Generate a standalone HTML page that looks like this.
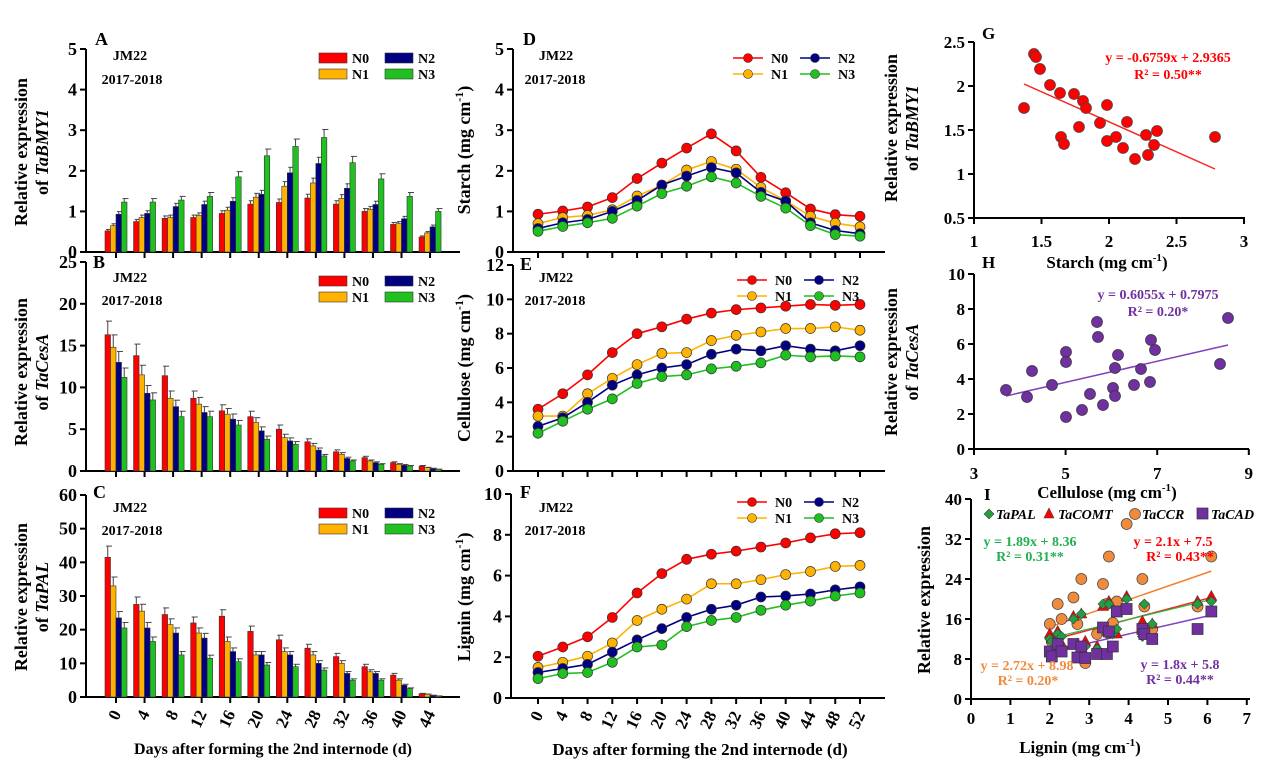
<!DOCTYPE html>
<html><head><meta charset="utf-8"><style>
html,body{margin:0;padding:0;background:#fff;}
svg{display:block;font-family:"Liberation Serif",serif;font-weight:bold;}
</style></head><body>
<svg id="s" width="1269" height="777" xmlns="http://www.w3.org/2000/svg"></svg>
<script>
const S=document.getElementById('s');let h='';
const C=['#ff0000','#ffb300','#000080','#1fc01f'];
const NAMES=['N0','N1','N2','N3'];
function t(x,y,s,fs,anch,extra){h+=`<text x="${x}" y="${y}" font-size="${fs}" text-anchor="${anch||'middle'}" ${extra||''}>${s}</text>`;}
function ln(x1,y1,x2,y2,c,w){h+=`<line x1="${x1}" y1="${y1}" x2="${x2}" y2="${y2}" stroke="${c||'#000'}" stroke-width="${w||2}"/>`;}
function yaxis(ax,top,bot,ymax,step,fs,fmt){ln(ax,top,ax,bot);for(let v=0;v<=ymax+1e-9;v+=step){let y=bot-(bot-top)*v/ymax;ln(ax-6,y,ax,y);t(ax-9,y+6,fmt?fmt(v):v,fs||18,'end');}}
function xticks(ax,right,bot,x0,dx,n,labels){ln(ax,bot,right,bot);for(let i=0;i<n;i++){let x=x0+dx*i;ln(x,bot,x,bot+6);if(labels){h+=`<text x="${x}" y="${bot+14}" font-size="17" text-anchor="end" transform="rotate(-65 ${x} ${bot+14})" dy="6">${labels[i]}</text>`;}}}
function bars(ax,right,top,bot,ymax,data,labels,err){
 const x0=116,dx=28.55;xticks(ax,right,bot,x0,dx,12,labels);
 data.forEach((g,i)=>{g.forEach((v,j)=>{let x=x0+dx*i-11+j*5.5;let y=bot-(bot-top)*v/ymax;
  h+=`<rect x="${x}" y="${y}" width="5.5" height="${bot-y}" fill="${C[j]}" stroke="#333" stroke-width="0.6"/>`;
  let e=y-(bot-top)*(v*err)/ymax;ln(x+2.75,y,x+2.75,e,'#444',1);ln(x+1,e,x+7,e,'#444',1);});});}
function legBar(x,y){NAMES.forEach((n,j)=>{let xx=x+(j>>1)*66,yy=y+(j&1)*16;h+=`<rect x="${xx}" y="${yy}" width="28" height="10" fill="${C[j]}" stroke="#333" stroke-width="0.6"/>`;t(xx+33,yy+10,n,14,'start');});}
function legLine(x,y){NAMES.forEach((n,j)=>{let xx=x+(j>>1)*67,yy=y+(j&1)*16;ln(xx,yy,xx+30,yy,C[j],1.5);h+=`<circle cx="${xx+15}" cy="${yy}" r="4.5" fill="${C[j]}" stroke="#333" stroke-width="0.6"/>`;t(xx+38,yy+5,n,14,'start');});}
function lines(top,bot,ymax,data,err){const x0=538,dx=24.77;
 data.forEach((s,j)=>{let p=s.map((v,i)=>[x0+dx*i,bot-(bot-top)*v/ymax]);
  h+=`<polyline points="${p.map(q=>q.join(',')).join(' ')}" fill="none" stroke="${C[j]}" stroke-width="1.6"/>`;
  p.forEach(q=>{if(err){ln(q[0],q[1]-5,q[0],q[1]+5,'#777',1);}h+=`<circle cx="${q[0]}" cy="${q[1]}" r="5" fill="${C[j]}" stroke="#333" stroke-width="0.7"/>`;});});}
function ylab(x,y,lines_,fs){lines_.forEach((l,i)=>{h+=`<text x="${x+i*21}" y="${y}" font-size="${fs||18}" text-anchor="middle" transform="rotate(-90 ${x+i*21} ${y})">${l}</text>`;});}
const days12=[0,4,8,12,16,20,24,28,32,36,40,44];
const days14=[0,4,8,12,16,20,24,28,32,36,40,44,48,52];
// Panel A
yaxis(86,49,252,5,1);
bars(86,460,49,252,5,[[.52,.65,.93,1.23],[.75,.85,.95,1.23],[.83,.85,1.12,1.28],[.85,.9,1.17,1.37],[.95,1.03,1.25,1.85],[1.18,1.35,1.42,2.37],[1.22,1.62,1.95,2.6],[1.33,1.7,2.18,2.82],[1.18,1.32,1.57,2.2],[1.0,1.05,1.17,1.8],[.68,.7,.82,1.37],[.37,.47,.62,1.0]],null,0.07);
t(95,45,'A',18,'start');t(130,60,'JM22',14);t(132,84,'2017-2018',14);legBar(319,53);
ylab(27,152,['Relative expression','of <tspan font-style="italic">TaBMY1</tspan>']);
// Panel B
yaxis(86,262,471,25,5);
bars(86,460,262,471,25,[[16.3,14.8,13,11.2],[13.8,11.5,9.3,8.5],[11.4,8.7,7.7,6.5],[8.7,8,7,6.5],[7.2,6.8,6.2,5.5],[6.5,5.8,4.8,3.8],[5,4,3.6,3.2],[3.5,3,2.5,1.8],[2.3,2,1.5,1.2],[1.6,1.2,1,0.8],[1,0.8,0.7,0.6],[0.6,0.4,0.3,0.2]],null,0.1);
t(93,268,'B',18,'start');t(130,282,'JM22',14);t(132,305,'2017-2018',14);legBar(319,276);
ylab(27,372,['Relative expression','of <tspan font-style="italic">TaCesA</tspan>']);
// Panel C
yaxis(86,495,697,60,10);
bars(86,460,495,697,60,[[41.5,33,23.5,20.5],[27.5,25.5,20.5,16.5],[24.5,21.5,19,12.5],[22,19,17.5,11.5],[24,16.5,13.5,10.5],[19.5,12.5,12.5,9.5],[17,13.5,12.5,9],[14.5,12.5,10,8],[12,10,7,5],[9,7.5,7,5],[6.5,5,3.5,2.5],[1,0.8,0.5,0.3]],days12,0.08);
t(93,498,'C',18,'start');t(130,512,'JM22',14);t(132,535,'2017-2018',14);legBar(319,508);
ylab(27,597,['Relative expression','of <tspan font-style="italic">TaPAL</tspan>']);
t(273,754,'Days after forming the 2nd internode (d)',16);
// Panel D
yaxis(513,49,252,5,1);xticks(513,885,252,538,24.77,14,null);
lines(49,252,5,[[.93,1.01,1.11,1.34,1.81,2.19,2.56,2.91,2.49,1.84,1.46,1.06,.92,.88],[.7,.85,.9,1.04,1.38,1.64,2.02,2.23,2.04,1.59,1.26,.88,.71,.62],[.58,.72,.8,1.0,1.27,1.65,1.87,2.08,1.95,1.47,1.25,.72,.53,.45],[.51,.63,.72,.83,1.13,1.44,1.62,1.85,1.7,1.37,1.08,.65,.43,.39]],false);
t(523,45,'D',18,'start');t(556,60,'JM22',14);t(555,84,'2017-2018',14);legLine(733,58);
h+=`<text x="470" y="150" font-size="18" text-anchor="middle" transform="rotate(-90 470 150)">Starch (mg cm<tspan dy="-7" font-size="12">-1</tspan><tspan dy="7">)</tspan></text>`;
// Panel E
yaxis(513,265,471,12,2);xticks(513,885,471,538,24.77,14,null);
lines(265,471,12,[[3.6,4.5,5.6,6.9,8.0,8.4,8.85,9.2,9.4,9.5,9.6,9.7,9.65,9.7],[3.2,3.2,4.5,5.4,6.2,6.85,6.9,7.6,7.9,8.1,8.3,8.3,8.4,8.2],[2.6,3.1,4.0,5.0,5.6,6.0,6.2,6.8,7.1,7.0,7.3,7.1,7.0,7.3],[2.2,2.9,3.6,4.2,5.1,5.5,5.6,5.95,6.1,6.3,6.75,6.65,6.7,6.65]],true);
t(520,270,'E',18,'start');t(556,282,'JM22',14);t(555,305,'2017-2018',14);legLine(737,280);
h+=`<text x="470" y="368" font-size="18" text-anchor="middle" transform="rotate(-90 470 368)">Cellulose (mg cm<tspan dy="-7" font-size="12">-1</tspan><tspan dy="7">)</tspan></text>`;
// Panel F
yaxis(511,494,698,10,2);xticks(511,885,698,538,24.77,14,days14);
lines(494,698,10,[[2.05,2.5,3.0,3.95,5.15,6.1,6.8,7.05,7.2,7.4,7.6,7.85,8.05,8.1],[1.5,1.75,2.05,2.7,3.8,4.35,4.85,5.6,5.6,5.8,6.05,6.2,6.45,6.5],[1.25,1.45,1.65,2.25,2.85,3.4,3.95,4.35,4.55,4.95,5.0,5.1,5.3,5.45],[0.95,1.2,1.25,1.75,2.5,2.6,3.5,3.8,3.95,4.3,4.55,4.75,5.0,5.15]],true);
t(520,498,'F',18,'start');t(556,512,'JM22',14);t(555,535,'2017-2018',14);legLine(737,502);
h+=`<text x="470" y="597" font-size="18" text-anchor="middle" transform="rotate(-90 470 597)">Lignin (mg cm<tspan dy="-7" font-size="12">-1</tspan><tspan dy="7">)</tspan></text>`;
t(700,755,'Days after forming the 2nd internode (d)',17);
// Panel G
ln(974,42,974,218);ln(974,218,1245,218);
[0.5,1,1.5,2,2.5].forEach(v=>{let y=218-(v-0.5)*88;ln(968,y,974,y);t(965,y+6,v,17,'end');});
[1,1.5,2,2.5,3].forEach(v=>{let x=974+(v-1)*135;ln(x,218,x,224);t(x,247,v,17);});
t(1107,268,'Starch (mg cm<tspan dy="-7" font-size="11">-1</tspan><tspan dy="7">)</tspan>',17);
ylab(897,128,['Relative expression','of <tspan font-style="italic">TaBMY1</tspan>']);
t(982,39,'G',17,'start');
ln(1024,84,1215,169,'#ff2020',1.5);
[[1024,108],[1034,54],[1036,57],[1040,69],[1050,85],[1060,93],[1074,94],[1083,101],[1086,108],[1079,127],[1061,137],[1064,144],[1100,123],[1107,105],[1107,141],[1116,137],[1123,148],[1127,122],[1135,159],[1146,135],[1157,131],[1154,145],[1148,155],[1215,137]].forEach(p=>{h+=`<circle cx="${p[0]}" cy="${p[1]}" r="5.5" fill="#ff0000" stroke="#444" stroke-width="0.7"/>`;});
t(1168,62,'y = -0.6759x + 2.9365',14,'middle','fill="#ff0000"');t(1168,79,'R² = 0.50**',14,'middle','fill="#ff0000"');
// Panel H
ln(974,274,974,449);ln(974,449,1249,449);
[0,2,4,6,8,10].forEach(v=>{let y=449-v*17.5;ln(968,y,974,y);t(965,y+6,v,17,'end');});
[3,5,7,9].forEach(v=>{let x=974+(v-3)*45.8;ln(x,449,x,455);t(x,479,v,17);});
t(1107,498,'Cellulose (mg cm<tspan dy="-7" font-size="11">-1</tspan><tspan dy="7">)</tspan>',17);
ylab(897,362,['Relative expression','of <tspan font-style="italic">TaCesA</tspan>']);
t(982,268,'H',17,'start');
ln(1006,396,1228,345,'#8040c0',1.5);
[[1006,390],[1027,397],[1032,371],[1052,385],[1066,352],[1066,362],[1066,417],[1097,322],[1098,337],[1090,394],[1082,410],[1103,405],[1113,388],[1115,396],[1115,368],[1118,355],[1134,385],[1141,369],[1151,340],[1155,350],[1150,382],[1220,364],[1228,318]].forEach(p=>{h+=`<circle cx="${p[0]}" cy="${p[1]}" r="5.5" fill="#7030a0" stroke="#333" stroke-width="0.7"/>`;});
t(1158,299,'y = 0.6055x + 0.7975',14,'middle','fill="#7030a0"');t(1158,316,'R² = 0.20*',14,'middle','fill="#7030a0"');
// Panel I
const X=v=>971+v*39.4,Y=v=>699-v*5;
ln(971,499,971,699);ln(971,699,1250,699);
[0,8,16,24,32,40].forEach(v=>{ln(965,Y(v),971,Y(v));t(962,Y(v)+6,v,17,'end');});
[0,1,2,3,4,5,6,7].forEach(v=>{ln(X(v),699,X(v),705);t(X(v),724,v,17);});
t(1080,753,'Lignin (mg cm<tspan dy="-7" font-size="11">-1</tspan><tspan dy="7">)</tspan>',17);
h+=`<text x="930" y="600" font-size="18" text-anchor="middle" transform="rotate(-90 930 600)">Relative expression</text>`;
t(984,500,'I',17,'start');
const xs=[2,2.05,2.2,2.3,2.6,2.7,2.8,2.9,3.2,3.35,3.45,3.5,3.6,3.7,3.95,4.35,4.4,4.6,5.75,6.1];
const pal=[12,11.5,13,12.5,16,11,17,10.5,10,19,13,19,13,14,20,12.5,19,15,19,19.5];
const comt=[13,12,13.5,11,16.5,11,17,11.5,10.5,18.5,13.5,19.5,13,13,20.5,15.5,14.5,15,19.5,20.5];
const ccr=[15,11.5,19,16,20.3,15,24,7.2,13,23,19,28.5,15.2,19.5,35,24,18.5,14,18.5,28.5];
const cad=[9.5,8.5,11,9.5,11,8.3,10.5,8.2,9,14.3,9,13.5,10.5,17.5,18,14,13,12,14,17.5];
ln(X(2),Y(2.72*2+8.98),X(6.1),Y(2.72*6.1+8.98),'#f08030',1.5);
ln(X(2),Y(2.1*2+7.5),X(6.1),Y(2.1*6.1+7.5),'#ff2020',1.5);
ln(X(2),Y(1.89*2+8.36),X(6.1),Y(1.89*6.1+8.36),'#20c040',1.2);
ln(X(2),Y(1.8*2+5.8),X(6.1),Y(1.8*6.1+5.8),'#8040c0',1.5);
xs.forEach((x,i)=>{let cx=X(x),cy=Y(ccr[i]);h+=`<circle cx="${cx}" cy="${cy}" r="5.5" fill="#f08a3c" stroke="#444" stroke-width="0.7"/>`;});
xs.forEach((x,i)=>{let cx=X(x),cy=Y(comt[i]);h+=`<polygon points="${cx},${cy-6} ${cx+5.5},${cy+4} ${cx-5.5},${cy+4}" fill="#ff0000" stroke="#444" stroke-width="0.6"/>`;});
xs.forEach((x,i)=>{let cx=X(x),cy=Y(pal[i]);h+=`<polygon points="${cx},${cy-5} ${cx+5},${cy} ${cx},${cy+5} ${cx-5},${cy}" fill="#20a040" stroke="#444" stroke-width="0.6"/>`;});
xs.forEach((x,i)=>{let cx=X(x),cy=Y(cad[i]);h+=`<rect x="${cx-5.5}" y="${cy-5.5}" width="11" height="11" fill="#7030a0" stroke="#333" stroke-width="0.7"/>`;});
h+=`<polygon points="989,509 994,514 989,519 984,514" fill="#20a040" stroke="#444" stroke-width="0.6"/>`;t(996,519,'TaPAL',14,'start','font-style="italic"');
h+=`<polygon points="1049,508 1054,518 1044,518" fill="#ff0000" stroke="#444" stroke-width="0.6"/>`;t(1058,519,'TaCOMT',14,'start','font-style="italic"');
h+=`<circle cx="1135" cy="514" r="5.5" fill="#f08a3c" stroke="#444" stroke-width="0.7"/>`;t(1142,519,'TaCCR',14,'start','font-style="italic"');
h+=`<rect x="1197" y="508" width="11" height="11" fill="#7030a0" stroke="#333" stroke-width="0.7"/>`;t(1211,519,'TaCAD',14,'start','font-style="italic"');
t(1030,546,'y = 1.89x + 8.36',14,'middle','fill="#20b050"');t(1030,561,'R² = 0.31**',14,'middle','fill="#20b050"');
t(1173,546,'y = 2.1x + 7.5',14,'middle','fill="#ff0000"');t(1180,561,'R² = 0.43**',14,'middle','fill="#ff0000"');
t(1027,670,'y = 2.72x + 8.98',14,'middle','fill="#f08a3c"');t(1028,685,'R² = 0.20*',14,'middle','fill="#f08a3c"');
t(1180,669,'y = 1.8x + 5.8',14,'middle','fill="#7030a0"');t(1180,684,'R² = 0.44**',14,'middle','fill="#7030a0"');
S.innerHTML=h;
</script>
</body></html>
